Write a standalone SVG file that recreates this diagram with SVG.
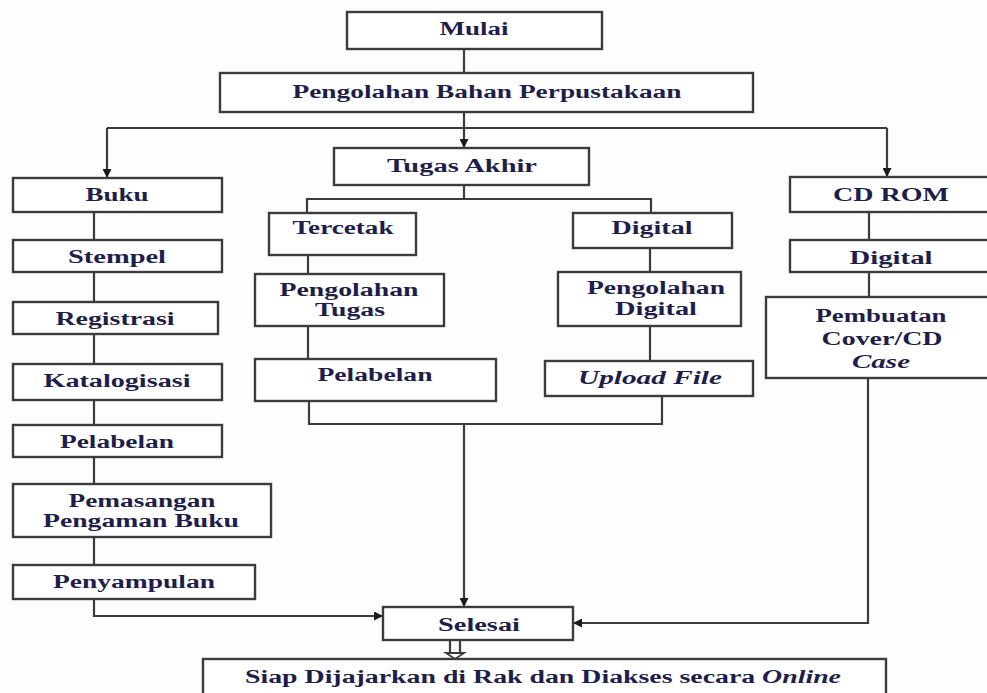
<svg xmlns="http://www.w3.org/2000/svg" width="987" height="693" viewBox="0 0 987 693">
  <style>
    .box { fill: #ffffff; stroke: #3c3c3c; stroke-width: 2.4; }
    .ln { fill: none; stroke: #3c3c3c; stroke-width: 2.2; }
    .t { font-family: "Liberation Serif", "Times New Roman", serif; font-weight: bold; font-size: 18.5px; fill: #1e1e4a; text-anchor: middle; }
    .it { font-style: italic; }
  </style>
  <defs>
    <marker id="arrow" viewBox="0 0 10 10" refX="10" refY="5" markerWidth="9" markerHeight="9" markerUnits="userSpaceOnUse" orient="auto">
      <path d="M0,0 L10,5 L0,10 z" fill="#1a1a1a"/>
    </marker>
  </defs>
  <rect width="987" height="693" fill="#fdfdfd"/>

  <!-- connectors -->
  <g id="connectors">
    <path class="ln" d="M464,49 V73"/>
    <path class="ln" d="M464,112 V148" marker-end="url(#arrow)"/>
    <path class="ln" d="M107,128 H887"/>
    <path class="ln" d="M107,128 V178" marker-end="url(#arrow)"/>
    <path class="ln" d="M887,128 V177" marker-end="url(#arrow)"/>
    <!-- Tugas Akhir split -->
    <path class="ln" d="M464,185 V199 M307,213 V199 H651 V213"/>
    <path class="ln" d="M308,255 V274 M308,326 V359"/>
    <path class="ln" d="M650,248 V272 M650,326 V361"/>
    <path class="ln" d="M309,401 V424 H662 V396"/>
    <path class="ln" d="M464,424 V607" marker-end="url(#arrow)"/>
    <!-- Buku column -->
    <path class="ln" d="M94,212 V240 M94,272 V302 M94,334 V364 M94,400 V425 M94,457 V484 M94,537 V565"/>
    <path class="ln" d="M94,599 V616 H383" marker-end="url(#arrow)"/>
    <!-- CD ROM column -->
    <path class="ln" d="M869,212 V240 M869,272 V297"/>
    <path class="ln" d="M868,378 V623 H573" marker-end="url(#arrow)"/>
    <!-- hollow arrow to final box -->
    <path class="ln" d="M450,641 V653 M460,641 V653" stroke-width="1.8"/>
    <path d="M446,653 H464 L455,659 z" fill="#ffffff" stroke="#3c3c3c" stroke-width="1.8"/>
  </g>

  <g id="mulai">
    <rect class="box" x="347" y="12" width="255" height="37"/>
    <text class="t" x="474" y="35" textLength="69" lengthAdjust="spacingAndGlyphs">Mulai</text>
  </g>
  <g id="pengolahan-bahan">
    <rect class="box" x="220" y="73" width="533" height="39"/>
    <text class="t" x="487" y="98" textLength="389" lengthAdjust="spacingAndGlyphs">Pengolahan Bahan Perpustakaan</text>
  </g>
  <g id="tugas-akhir">
    <rect class="box" x="334" y="148" width="255" height="37"/>
    <text class="t" x="462" y="172" textLength="150" lengthAdjust="spacingAndGlyphs">Tugas Akhir</text>
  </g>

  <!-- Buku column -->
  <g id="buku">
    <rect class="box" x="13" y="178" width="209" height="34"/>
    <text class="t" x="117" y="201" textLength="63" lengthAdjust="spacingAndGlyphs">Buku</text>
  </g>
  <g id="stempel">
    <rect class="box" x="13" y="240" width="209" height="32"/>
    <text class="t" x="117" y="263" textLength="98" lengthAdjust="spacingAndGlyphs">Stempel</text>
  </g>
  <g id="registrasi">
    <rect class="box" x="13" y="302" width="205" height="32"/>
    <text class="t" x="115" y="325" textLength="119" lengthAdjust="spacingAndGlyphs">Registrasi</text>
  </g>
  <g id="katalogisasi">
    <rect class="box" x="13" y="364" width="209" height="36"/>
    <text class="t" x="117" y="387" textLength="147" lengthAdjust="spacingAndGlyphs">Katalogisasi</text>
  </g>
  <g id="pelabelan-buku">
    <rect class="box" x="13" y="425" width="209" height="32"/>
    <text class="t" x="117" y="448" textLength="114" lengthAdjust="spacingAndGlyphs">Pelabelan</text>
  </g>
  <g id="pemasangan">
    <rect class="box" x="13" y="484" width="258" height="53"/>
    <text class="t" x="142" y="507" textLength="147" lengthAdjust="spacingAndGlyphs">Pemasangan</text>
    <text class="t" x="141" y="527" textLength="196" lengthAdjust="spacingAndGlyphs">Pengaman Buku</text>
  </g>
  <g id="penyampulan">
    <rect class="box" x="13" y="565" width="242" height="34"/>
    <text class="t" x="134" y="588" textLength="162" lengthAdjust="spacingAndGlyphs">Penyampulan</text>
  </g>

  <!-- Tugas Akhir branches -->
  <g id="tercetak">
    <rect class="box" x="269" y="213" width="147" height="42"/>
    <text class="t" x="343" y="234" textLength="101" lengthAdjust="spacingAndGlyphs">Tercetak</text>
  </g>
  <g id="pengolahan-tugas">
    <rect class="box" x="255" y="274" width="189" height="52"/>
    <text class="t" x="349" y="296" textLength="139" lengthAdjust="spacingAndGlyphs">Pengolahan</text>
    <text class="t" x="350" y="316" textLength="70" lengthAdjust="spacingAndGlyphs">Tugas</text>
  </g>
  <g id="pelabelan-ta">
    <rect class="box" x="255" y="359" width="241" height="42"/>
    <text class="t" x="375" y="381" textLength="115" lengthAdjust="spacingAndGlyphs">Pelabelan</text>
  </g>
  <g id="digital-ta">
    <rect class="box" x="573" y="213" width="159" height="35"/>
    <text class="t" x="652" y="234" textLength="81" lengthAdjust="spacingAndGlyphs">Digital</text>
  </g>
  <g id="pengolahan-digital">
    <rect class="box" x="558" y="272" width="183" height="54"/>
    <text class="t" x="656" y="294" textLength="138" lengthAdjust="spacingAndGlyphs">Pengolahan</text>
    <text class="t" x="656" y="315" textLength="82" lengthAdjust="spacingAndGlyphs">Digital</text>
  </g>
  <g id="upload-file">
    <rect class="box" x="545" y="361" width="208" height="35"/>
    <text class="t it" x="650" y="384" textLength="144" lengthAdjust="spacingAndGlyphs">Upload File</text>
  </g>

  <!-- CD ROM column -->
  <g id="cd-rom">
    <rect class="box" x="790" y="177" width="215" height="35"/>
    <text class="t" x="891" y="201" textLength="116" lengthAdjust="spacingAndGlyphs">CD ROM</text>
  </g>
  <g id="digital-cd">
    <rect class="box" x="790" y="240" width="215" height="32"/>
    <text class="t" x="891" y="264" textLength="83" lengthAdjust="spacingAndGlyphs">Digital</text>
  </g>
  <g id="pembuatan-cover">
    <rect class="box" x="766" y="297" width="239" height="81"/>
    <text class="t" x="881" y="322" textLength="131" lengthAdjust="spacingAndGlyphs">Pembuatan</text>
    <text class="t" x="882" y="345" textLength="121" lengthAdjust="spacingAndGlyphs">Cover/CD</text>
    <text class="t it" x="881" y="368" textLength="58" lengthAdjust="spacingAndGlyphs">Case</text>
  </g>

  <!-- end -->
  <g id="selesai">
    <rect class="box" x="383" y="607" width="190" height="33"/>
    <text class="t" x="479" y="631" textLength="82" lengthAdjust="spacingAndGlyphs">Selesai</text>
  </g>
  <g id="siap-dijajarkan">
    <rect class="box" x="203" y="659" width="683" height="40"/>
    <text class="t" x="543" y="683" textLength="596" lengthAdjust="spacingAndGlyphs">Siap Dijajarkan di Rak dan Diakses secara <tspan class="it">Online</tspan></text>
  </g>
</svg>
